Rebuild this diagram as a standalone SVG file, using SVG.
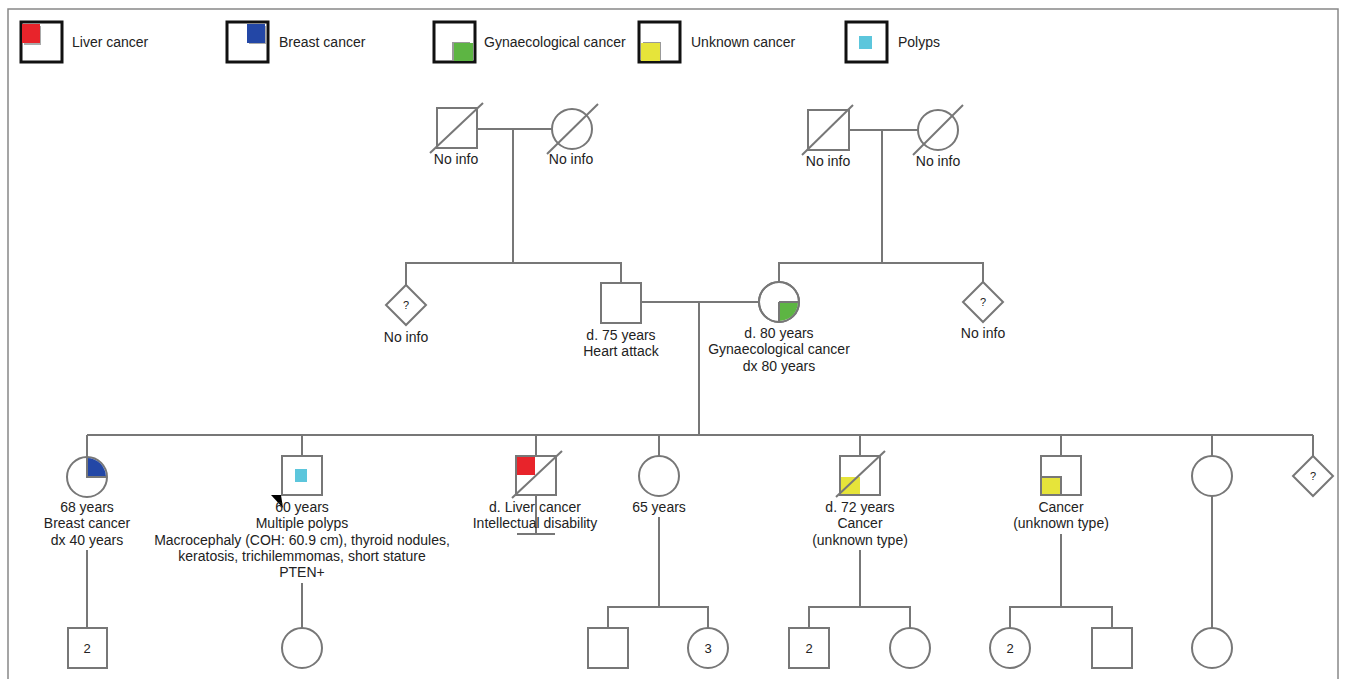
<svg xmlns="http://www.w3.org/2000/svg" width="1346" height="679" viewBox="0 0 1346 679">
<style>
.ln{stroke:#777;stroke-width:2;fill:none}
.sym{stroke:#777;stroke-width:2;fill:#fff}
.lg{stroke:#111;stroke-width:3;fill:#fff}
text{font-family:"Liberation Sans",Arial,sans-serif;font-size:14px;fill:#222}
.c{text-anchor:middle}
.q{font-size:11px;text-anchor:middle}
.n{font-size:13px;text-anchor:middle}
</style>
<rect x="0" y="0" width="1346" height="679" fill="#fff"/>
<rect x="8" y="9" width="1330" height="700" fill="none" stroke="#888" stroke-width="1.5"/>

<g id="legend">
<g id="lg-liver"><rect class="lg" x="21" y="22" width="41" height="40"/><rect x="24" y="26" width="17" height="19" fill="#aaa"/><rect x="22" y="24" width="18" height="19" fill="#e8242b"/><text x="72" y="47">Liver cancer</text></g>
<g id="lg-breast"><rect class="lg" x="227" y="22" width="41" height="40"/><rect x="249" y="26" width="17" height="18" fill="#aaa"/><rect x="247" y="24" width="18" height="19" fill="#2347a6"/><text x="279" y="47">Breast cancer</text></g>
<g id="lg-gyn"><rect class="lg" x="434" y="22" width="41" height="40"/><rect x="452" y="42" width="18" height="18" fill="#999"/><rect x="454" y="43" width="19" height="18" fill="#5db543"/><text x="484" y="47">Gynaecological cancer</text></g>
<g id="lg-unknown"><rect class="lg" x="639" y="22" width="41" height="40"/><rect x="643" y="42" width="18" height="18" fill="#999"/><rect x="641" y="43" width="19" height="18" fill="#e6e43a"/><text x="691" y="47">Unknown cancer</text></g>
<g id="lg-polyps"><rect class="lg" x="846" y="22" width="41" height="40"/><rect x="859" y="36" width="13" height="13" fill="#5cc6dc"/><text x="898" y="47">Polyps</text></g>
</g>

<g id="connectors">
<!-- left grandparents -->
<line class="ln" x1="477" y1="129" x2="552" y2="129"/>
<line class="ln" x1="513" y1="129" x2="513" y2="263"/>
<polyline class="ln" points="406,285 406,263 621,263 621,283"/>
<!-- right grandparents -->
<line class="ln" x1="849" y1="130" x2="918" y2="130"/>
<line class="ln" x1="882" y1="130" x2="882" y2="263"/>
<polyline class="ln" points="779,282 779,263 983,263 983,282"/>
<!-- parents -->
<line class="ln" x1="641" y1="302" x2="759" y2="302"/>
<line class="ln" x1="699" y1="302" x2="699" y2="435"/>
<line class="ln" x1="87" y1="435" x2="1313" y2="435"/>
<line class="ln" x1="87" y1="435" x2="87" y2="457"/>
<line class="ln" x1="302" y1="435" x2="302" y2="456"/>
<line class="ln" x1="536" y1="435" x2="536" y2="456"/>
<line class="ln" x1="659" y1="435" x2="659" y2="456"/>
<line class="ln" x1="860" y1="435" x2="860" y2="456"/>
<line class="ln" x1="1061" y1="435" x2="1061" y2="456"/>
<line class="ln" x1="1212" y1="435" x2="1212" y2="456"/>
<line class="ln" x1="1313" y1="435" x2="1313" y2="456"/>
<!-- descents to gen IV -->
<line class="ln" x1="87" y1="550" x2="87" y2="628"/>
<line class="ln" x1="302" y1="583" x2="302" y2="628"/>
<line class="ln" x1="536" y1="495" x2="536" y2="534"/>
<line class="ln" x1="517" y1="534" x2="555" y2="534"/>
<line class="ln" x1="659" y1="517" x2="659" y2="607"/>
<polyline class="ln" points="608,628 608,607 708,607 708,628"/>
<line class="ln" x1="860" y1="550" x2="860" y2="607"/>
<polyline class="ln" points="809,628 809,607 910,607 910,628"/>
<line class="ln" x1="1061" y1="534" x2="1061" y2="607"/>
<polyline class="ln" points="1010,628 1010,607 1112,607 1112,628"/>
<line class="ln" x1="1212" y1="496" x2="1212" y2="628"/>
</g>

<g id="gp1"><rect class="sym" x="437" y="108" width="40" height="40"/><line class="ln" x1="430" y1="153" x2="483" y2="103"/><text class="c" x="456" y="164">No info</text></g>
<g id="gm1"><circle class="sym" cx="572" cy="129" r="20"/><line class="ln" x1="547" y1="154" x2="598" y2="104"/><text class="c" x="571" y="164">No info</text></g>
<g id="gp2"><rect class="sym" x="808" y="110" width="41" height="40"/><line class="ln" x1="802" y1="155" x2="853" y2="105"/><text class="c" x="828" y="166">No info</text></g>
<g id="gm2"><circle class="sym" cx="938" cy="130" r="20"/><line class="ln" x1="913" y1="155" x2="963" y2="105"/><text class="c" x="938" y="166">No info</text></g>

<g id="uncle1"><polygon class="sym" points="406,285 426,305 406,325 386,305"/><text class="q" x="406" y="309">?</text><text class="c" x="406" y="342">No info</text></g>
<g id="father"><rect class="sym" x="601" y="283" width="40" height="40"/><text class="c" x="621" y="340">d. 75 years</text><text class="c" x="621" y="356">Heart attack</text></g>
<g id="mother"><circle class="sym" cx="779" cy="302" r="20"/><path d="M779,302 L798,302 A19,19 0 0 1 779,321 Z" fill="#5db543"/><path d="M779,302 L799,302 M779,302 L779,322" class="ln"/><circle cx="779" cy="302" r="20" class="ln"/><text class="c" x="779" y="338">d. 80 years</text><text class="c" x="779" y="354">Gynaecological cancer</text><text class="c" x="779" y="371">dx 80 years</text></g>
<g id="aunt2"><polygon class="sym" points="983,282 1003,302 983,322 963,302"/><text class="q" x="983" y="306">?</text><text class="c" x="983" y="338">No info</text></g>

<g id="c1"><circle class="sym" cx="87" cy="477" r="20"/><path d="M87,477 L87,458 A19,19 0 0 1 106,477 Z" fill="#2347a6"/><path d="M87,457 L87,477 L107,477" class="ln"/><text class="c" x="87" y="512">68 years</text><text class="c" x="87" y="528">Breast cancer</text><text class="c" x="87" y="545">dx 40 years</text></g>
<g id="c2"><rect class="sym" x="282" y="456" width="40" height="39"/><rect x="295" y="469" width="12" height="13" fill="#5cc6dc"/><polygon points="271,495 281,495 283,508" fill="#000"/><text class="c" x="302" y="512">60 years</text><text class="c" x="302" y="528">Multiple polyps</text><text class="c" x="302" y="545">Macrocephaly (COH: 60.9 cm), thyroid nodules,</text><text class="c" x="302" y="561">keratosis, trichilemmomas, short stature</text><text class="c" x="302" y="577">PTEN+</text></g>
<g id="c3"><rect class="sym" x="516" y="456" width="40" height="39"/><rect x="517" y="457" width="18" height="18" fill="#e8242b"/><line class="ln" x1="512" y1="498" x2="562" y2="451"/><text class="c" x="535" y="512">d. Liver cancer</text><text class="c" x="535" y="528">Intellectual disability</text></g>
<g id="c4"><circle class="sym" cx="659" cy="476" r="20"/><text class="c" x="659" y="512">65 years</text></g>
<g id="c5"><rect class="sym" x="840" y="456" width="40" height="39"/><rect x="841" y="477" width="19" height="17" fill="#e6e43a"/><line class="ln" x1="836" y1="497" x2="885" y2="451"/><text class="c" x="860" y="512">d. 72 years</text><text class="c" x="860" y="528">Cancer</text><text class="c" x="860" y="545">(unknown type)</text></g>
<g id="c6"><rect class="sym" x="1041" y="456" width="40" height="39"/><rect x="1042" y="477" width="19" height="17" fill="#e6e43a"/><path d="M1042,477 L1061,477 L1061,494" class="ln" stroke-width="1.5"/><text class="c" x="1061" y="512">Cancer</text><text class="c" x="1061" y="528">(unknown type)</text></g>
<g id="c7"><circle class="sym" cx="1212" cy="476" r="20"/></g>
<g id="c8"><polygon class="sym" points="1313,456 1333,476 1313,496 1293,476"/><text class="q" x="1313" y="480">?</text></g>

<g id="g1"><rect class="sym" x="68" y="628" width="39" height="40"/><text class="n" x="87" y="653">2</text></g>
<g id="g2"><circle class="sym" cx="302" cy="648" r="20"/></g>
<g id="g3"><rect class="sym" x="588" y="628" width="40" height="40"/></g>
<g id="g4"><circle class="sym" cx="708" cy="648" r="20"/><text class="n" x="708" y="653">3</text></g>
<g id="g5"><rect class="sym" x="789" y="628" width="40" height="40"/><text class="n" x="809" y="653">2</text></g>
<g id="g6"><circle class="sym" cx="910" cy="648" r="20"/></g>
<g id="g7"><circle class="sym" cx="1010" cy="648" r="20"/><text class="n" x="1010" y="653">2</text></g>
<g id="g8"><rect class="sym" x="1092" y="628" width="40" height="40"/></g>
<g id="g9"><circle class="sym" cx="1212" cy="648" r="20"/></g>
</svg>
